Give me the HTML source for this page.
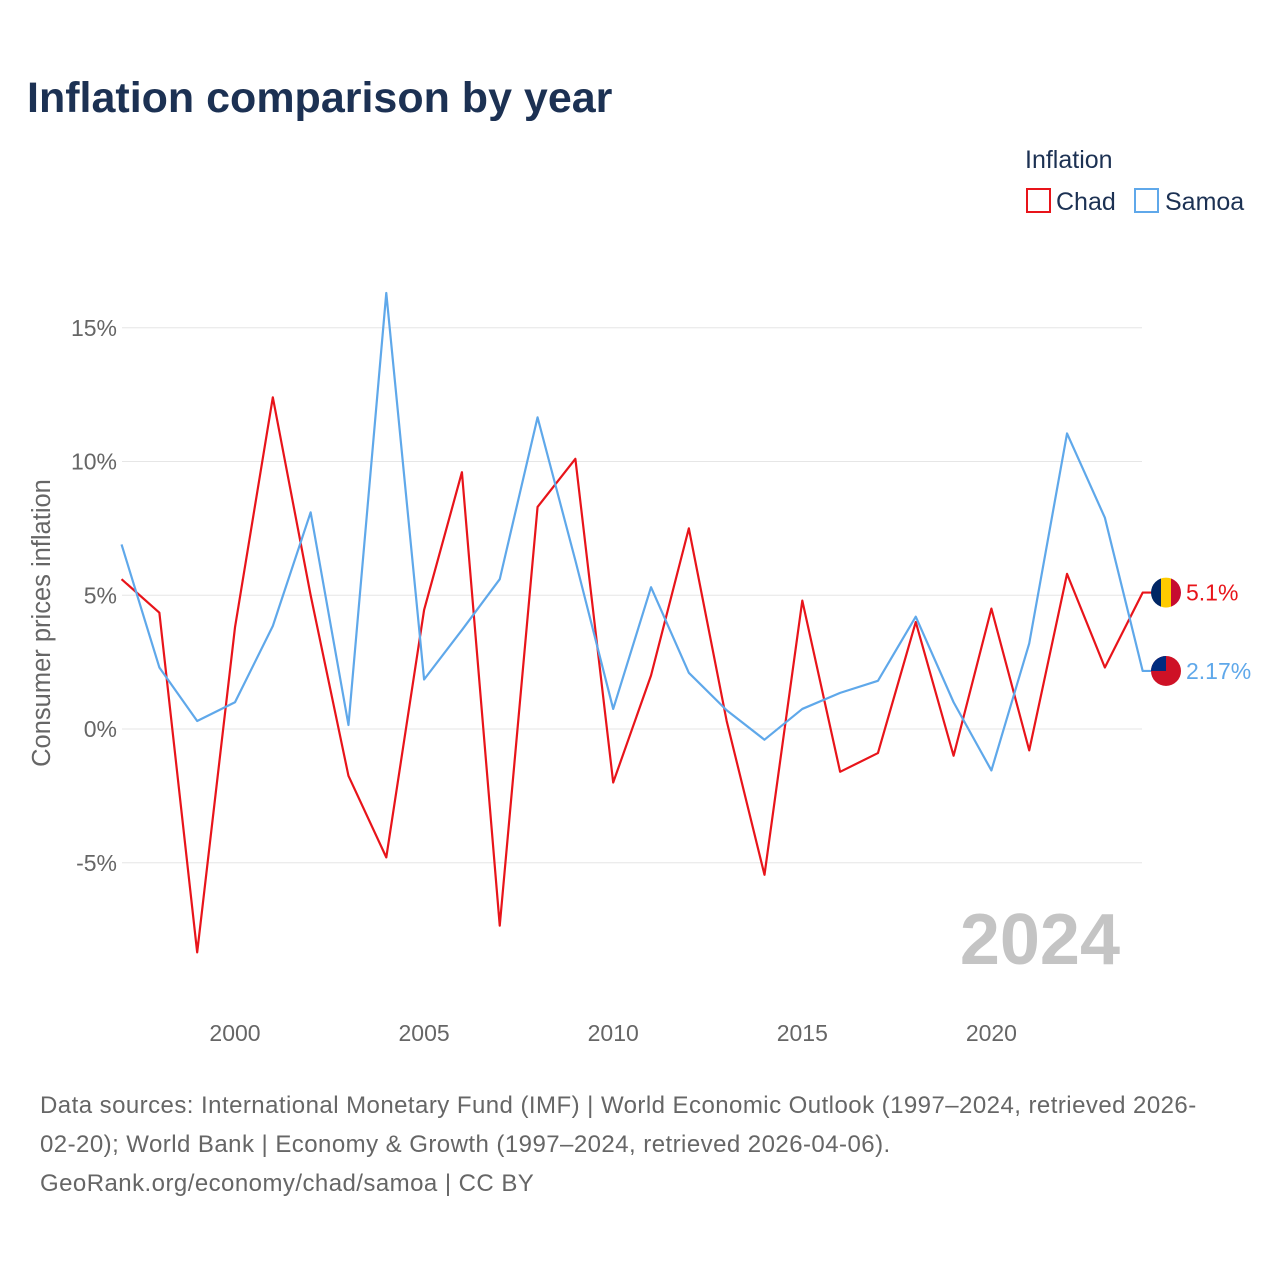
<!DOCTYPE html>
<html><head><meta charset="utf-8"><style>
body{margin:0;background:#fff;font-family:"Liberation Sans",sans-serif;}
#wrap{position:relative;width:1280px;height:1280px;overflow:hidden;}
</style></head><body>
<div id="wrap">
<svg id="svg" width="1280" height="1280">
<text x="27" y="112" font-size="43" font-weight="bold" fill="#1c3153">Inflation comparison by year</text>
<text x="1025" y="168" font-size="25" fill="#1c3153">Inflation</text>
<g><rect x="1027" y="189" width="23" height="23" fill="none" stroke="#e8141a" stroke-width="2"/><text x="1056" y="210" font-size="25" fill="#1c3153">Chad</text></g>
<g><rect x="1135" y="189" width="23" height="23" fill="none" stroke="#5fa8ea" stroke-width="2"/><text x="1165" y="210" font-size="25" fill="#1c3153">Samoa</text></g>
<g id="grid"></g><g id="lines"></g>
<text x="1120" y="964" font-size="72" font-weight="bold" fill="#c4c4c4" text-anchor="end">2024</text>
<text transform="translate(50,623) rotate(-90)" font-size="25.5" fill="#666" text-anchor="middle">Consumer prices inflation</text>
<g font-size="24" fill="#666" letter-spacing="0.45">
<text x="40" y="1113">Data sources: International Monetary Fund (IMF) | World Economic Outlook (1997–2024, retrieved 2026-</text>
<text x="40" y="1152">02-20); World Bank | Economy &amp; Growth (1997–2024, retrieved 2026-04-06).</text>
<text x="40" y="1191">GeoRank.org/economy/chad/samoa | CC BY</text></g>
</svg></div>
<script>
const years=[];for(let y=1997;y<=2024;y++)years.push(y);
const chad=[5.6,4.35,-8.35,3.8,12.4,5.0,-1.75,-4.8,4.45,9.6,-7.35,8.3,10.1,-2.0,2.0,7.5,0.3,-5.45,4.8,-1.6,-0.9,4.0,-1.0,4.5,-0.8,5.8,2.3,5.1];
const samoa=[6.9,2.3,0.3,1.0,3.85,8.1,0.15,16.3,1.85,3.7,5.6,11.65,6.3,0.75,5.3,2.1,0.7,-0.4,0.75,1.35,1.8,4.2,1.0,-1.55,3.2,11.05,7.9,2.17];
const yTicks=[15,10,5,0,-5];
const xTicks=[2000,2005,2010,2015,2020];
const NS="http://www.w3.org/2000/svg";
const X=y=>235+(y-2000)*37.82;
const Y=v=>729-v*26.75;
const grid=document.getElementById('grid'),lines=document.getElementById('lines');
function mk(tag,at,p){const e=document.createElementNS(NS,tag);for(const k in at)e.setAttribute(k,at[k]);p.appendChild(e);return e;}
yTicks.forEach(t=>{
 const l=mk('line',{x1:122,x2:1142,y1:Y(t),y2:Y(t),stroke:'#e6e6e6','stroke-width':1},grid);
 
 
 const tx=mk('text',{x:117,y:Y(t)+8,'font-size':23,fill:'#666','text-anchor':'end'},grid);tx.textContent=t+'%';
 
 
});
xTicks.forEach(t=>{
 const tx=mk('text',{x:X(t),y:1041,'font-size':23,fill:'#666','text-anchor':'middle'},grid);tx.textContent=t;
 
 
});
function series(d,col,name,lab,flag){
 let pts=d.map((v,i)=>X(years[i])+','+Y(v)).join(' ');
 const last=Y(d[d.length-1]);
 pts+=' '+(X(2024)+10)+','+last;
 const p=mk('polyline',{points:pts,fill:'none',stroke:col,'stroke-width':2.2,'stroke-linejoin':'round'},lines);
 
 
 const g=mk('g',{},lines);
 
 
 flag(g,1166,last);
 const t=mk('text',{x:1186,y:last+8,'font-size':23,fill:col},lines);t.textContent=lab;
 
 
}
series(chad,'#e8141a','chad','5.1%',(g,cx,cy)=>{
 const cp=mk('clipPath',{id:'cc'},g);mk('circle',{cx:cx,cy:cy,r:15},cp);
 const h=mk('g',{'clip-path':'url(#cc)'},g);
 mk('rect',{x:cx-15,y:cy-15,width:10,height:30,fill:'#002664'},h);
 mk('rect',{x:cx-5,y:cy-15,width:10,height:30,fill:'#fecb00'},h);
 mk('rect',{x:cx+5,y:cy-15,width:10,height:30,fill:'#c60c30'},h);
});
series(samoa,'#5fa8ea','samoa','2.17%',(g,cx,cy)=>{
 const cp=mk('clipPath',{id:'cs'},g);mk('circle',{cx:cx,cy:cy,r:15},cp);
 const h=mk('g',{'clip-path':'url(#cs)'},g);
 mk('rect',{x:cx-15,y:cy-15,width:30,height:30,fill:'#ce1126'},h);
 mk('rect',{x:cx-15,y:cy-15,width:15,height:15,fill:'#002b7f'},h);
});
</script>
</body></html>
